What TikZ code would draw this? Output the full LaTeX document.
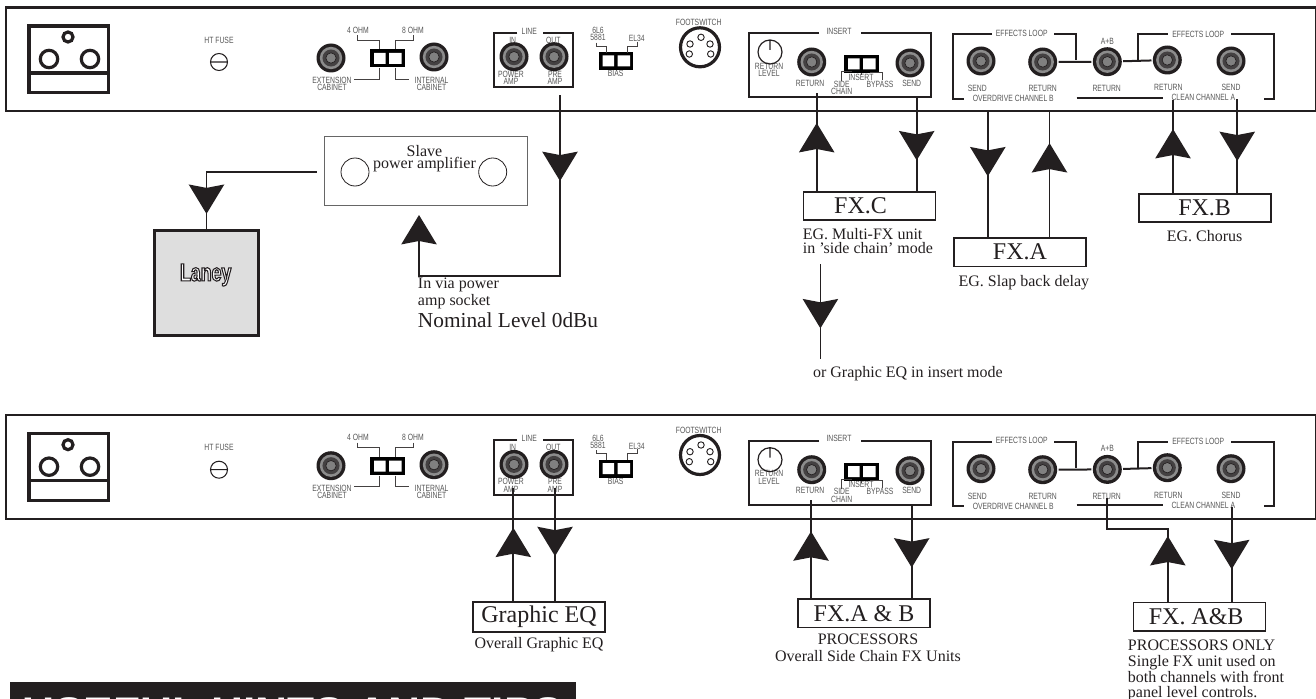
\documentclass[tikz,border=0pt]{standalone}
\usepackage{fontspec}
\setmainfont{Liberation Serif}
\newfontfamily\panelfont[FakeStretch=0.75]{Liberation Sans}
\newfontfamily\laneyfont[FakeStretch=0.72]{Liberation Sans Bold}
\newfontfamily\hintsfont{Liberation Sans Bold}
\usepackage{xcolor}
\usetikzlibrary{arrows.meta,positioning,decorations.markings}
\definecolor{ink}{HTML}{231F20}
\definecolor{legend}{HTML}{555555}
\tikzset{
  Tri/.tip={Stealth[length=22pt,width=26.5pt,inset=2.5pt]},
  wire/.style={line width=1.3pt, draw=ink},
  flow/.style={wire, postaction={decorate, decoration={markings, mark=at position #1 with {\arrow{Tri}}}}},
  fxbox/.style={draw=ink, line width=1.4pt, fill=white, inner sep=0pt, minimum width=99pt, minimum height=21.5pt, font=\fontsize{18}{20}\selectfont, text=ink},
  note/.style={inner sep=0pt, align=left, text=ink, font=\fontsize{12}{10.9}\selectfont},
  lbl/.style={inner sep=0pt, align=center, text=legend, font=\panelfont\fontsize{6.8}{5.6}\selectfont},
  lead/.style={line width=0.6pt, draw=ink!85},
  frame/.style={line width=1.5pt, draw=ink},
  jack/.style={circle, inner sep=0pt, minimum size=21.75pt, fill=ink, outer sep=1pt, path picture={
    \fill[black!45] (path picture bounding box.center) circle (8.4pt);
    \fill[ink!85] (path picture bounding box.center) circle (6.4pt);
    \filldraw[fill=black!50, draw=ink, line width=0.5pt] (path picture bounding box.center) circle (3.9pt);}},
  switchbox/.style={inner sep=0pt, minimum width=26pt, minimum height=13.5pt, fill=black, path picture={
    \fill[white] (path picture bounding box.center) +(-13.5,-5.5) rectangle +(-2,5.5) +(1.5,-5.5) rectangle +(14,5.5);}},
  rearpanel/.pic={
    \draw[line width=1.6pt, draw=ink] (6,7.5) rectangle (1315.7,111);
    \draw[line width=2.4pt, draw=ink] (29,26) rectangle (108.5,92.5) (29,73) -- (108.5,73);
    \draw[line width=2.4pt, draw=ink] (68,37) circle (5) (49,59) circle (8.7) (90,59) circle (8.7);
    \draw[line width=0.8pt, draw=ink] (219,62) circle (8.5) (210.5,62) -- (227.5,62);
    \foreach \name/\x/\y/\txt in {
      fuselbl/219/40/HT FUSE, ohmfour/358/30/4 OHM, ohmeight/413/30/8 OHM,
      extlbl/332/84/EXTENSION\\CABINET, intlbl/431.5/84/INTERNAL\\CABINET,
      linelbl/529.3/31/LINE, inlbl/512.7/40/IN, outlbl/553.3/40/OUT,
      pwrlbl/511/77.7/POWER\\AMP, prelbl/555/77.7/PRE\\AMP,
      sixlbl/598/34/6L6\\5881, ellbl/636.7/38.3/EL34, biaslbl/615.7/73.3/BIAS,
      footlbl/698.7/22.3/FOOTSWITCH, inslbl/839/31/INSERT, levlbl/769/69.7/RETURN\\LEVEL,
      retlbl/810/83/RETURN, sidelbl/841.7/87.8/SIDE\\CHAIN, modelbl/861/77/INSERT,
      byplbl/880/84/BYPASS, sendlbl/911.7/83/SEND,
      loopb/1021.7/33/EFFECTS LOOP, loopa/1198.3/34/EFFECTS LOOP, ablbl/1107.3/41/A+B,
      bsend/977.3/88.3/SEND, bret/1042.7/88.3/RETURN, abret/1106.7/88.3/RETURN,
      aret/1168.3/87.3/RETURN, asend/1231/87.3/SEND,
      chanb/1013.3/98.3/OVERDRIVE CHANNEL B, chana/1203.3/97.3/CLEAN CHANNEL A}
      \node[lbl] (-\name) at (\x,\y) {\txt};
    \foreach \name/\x/\y in {extjack/331/58, intjack/434/57, injack/514/56.7, outjack/554/56.7,
      retjack/811.7/62, sendjack/910/63, bsendjack/981/61, bretjack/1042.7/62,
      abjack/1107.3/61.7, aretjack/1167.3/60, asendjack/1231/61}
      \node[jack] (-\name) at (\x,\y) {};
    \node[switchbox] (-ohmsw) at (387.5,58.5) {};
    \node[switchbox] (-biassw) at (616,61) {};
    \node[switchbox] (-inssw) at (861.5,64) {};
    \draw[lead] (357,35) -- (357,40) -- (379,40) -- (379,49);
    \draw[lead] (413,35) -- (413,40) -- (395,40) -- (395,49);
    \draw[lead] (379,68) -- (379,79) -- (354,79);
    \draw[lead] (395,68) -- (395,79) -- (409,79);
    \draw[lead] (596,42.7) -- (596,46) -- (606,46) -- (606,52.7);
    \draw[lead] (637.7,41.7) -- (637.7,46) -- (627.7,46) -- (627.7,52.7);
    \draw[lead] (841.7,81) -- (841.7,71.7) -- (852,71.7);
    \draw[lead] (861.7,73) -- (861.7,75);
    \draw[lead] (870,72.6) -- (882,72.6) -- (882,80);
    \draw[frame] (517.3,32.7) -- (494,32.7) -- (494,87.3) -- (572.7,87.3) -- (572.7,32.7) -- (543.3,32.7);
    \draw[frame] (819,33.3) -- (748.7,33.3) -- (748.7,97.3) -- (930.7,97.3) -- (930.7,33.3) -- (860.7,33.3);
    \draw[line width=2.4pt, draw=ink] (700,47.3) circle (19.5);
    \draw[line width=0.7pt, draw=ink] (701,37.3) circle (3.2) (690,44) circle (3.2) (710,44) circle (3.2) (689.3,54) circle (3.2) (710.7,54) circle (3.2);
    \draw[line width=0.9pt, draw=ink] (770,52) circle (12) (770,40) -- (770,50);
    \draw[frame] (992,34) -- (953.3,34) -- (953.3,98.6) -- (964,98.6);
    \draw[frame] (1054,34) -- (1076,34) -- (1076,60);
    \draw[frame] (1137.7,60) -- (1137.7,34) -- (1167.7,34);
    \draw[frame] (1231,34) -- (1274.3,34) -- (1274.3,98.6) -- (1264,98.6);
    \draw[frame] (1076.7,97.7) -- (1162.7,97.7);
    \draw[frame] (-bretjack) -- (-abjack);
    \draw[frame] (-abjack) -- (-aretjack);
  }
}
\begin{document}
\begin{tikzpicture}[x=0.75pt, y=-0.75pt]
  \useasboundingbox (0,0) rectangle (1316,699);

  \pic (top) at (0,0) {rearpanel};
  \pic (bot) at (0,407.7) {rearpanel};

  \node[draw=black!60, line width=0.7pt, minimum width=152.25pt, minimum height=52.25pt, inner sep=0pt] (slave) at (425.5,170.8) {};
  \node[inner sep=0pt, align=center, text=ink, font=\fontsize{12}{9.5}\selectfont] (slavetxt) at (424.5,158.5) {Slave\\power amplifier};
  \node[circle, draw=ink, line width=0.6pt, minimum size=21pt, inner sep=0pt] (slavel) at (355,172) {};
  \node[circle, draw=ink, line width=0.6pt, minimum size=21pt, inner sep=0pt] (slaver) at (492.7,172) {};
  \node[draw=ink, line width=2.6pt, fill=black!13, minimum width=78pt, minimum height=78.5pt, inner sep=0pt] (laney) at (206.5,283) {};
  \node[inner sep=0pt, font=\laneyfont\fontsize{18.5}{20}\selectfont, text=white] (laneytxt) at (205.7,275) {\special{pdf:code q 1 1 1 rg 0.14 0.12 0.13 RG 0.8 w 2 Tr}Laney\special{pdf:code Q}};

  \node[note, anchor=west, font=\fontsize{12}{12.4}\selectfont] (socket) at (417.7,293.3) {In via power\\amp socket};
  \node[note, anchor=west, font=\fontsize{16}{18}\selectfont] (nominal) at (417.7,320) {Nominal Level 0dBu};

  \node[fxbox] (fxc) at (869.5,206) {\hspace*{-13.5pt}FX.C};
  \node[fxbox] (fxa) at (1019.9,252.2) {FX.A};
  \node[fxbox] (fxb) at (1204.6,208) {FX.B};
  \node[note, below=5pt of fxc.south west, anchor=north west] (fxcnote) {EG. Multi-FX unit\\in 'side chain' mode};
  \node[note, below=5.5pt of fxa, xshift=3pt] (fxanote) {EG. Slap back delay};
  \node[note, below=5.5pt of fxb] (fxbnote) {EG. Chorus};
  \node[note] (eqnote) at (907.9,373.3) {or Graphic EQ in insert mode};

  \node[fxbox, minimum width=99.5pt, minimum height=22pt] (geq) at (539,617) {Graphic EQ};
  \node[fxbox] (fxab) at (864,613.2) {FX.A \& B};
  \node[fxbox] (fxone) at (1199.5,616.8) {\hspace*{-5pt}FX. A\&B};
  \node[note, below=3.5pt of geq] (geqnote) {Overall Graphic EQ};
  \node[note, align=center, below=3.5pt of fxab, xshift=3pt, font=\fontsize{12}{13}\selectfont] (fxabnote) {PROCESSORS\\Overall Side Chain FX Units};
  \node[note, anchor=north west, font=\fontsize{12}{11.7}\selectfont] (fxonenote) at (1127.7,640) {PROCESSORS ONLY\\Single FX unit used on\\both channels with front\\panel level controls.};

  \begin{scope}
    \clip (0,670) rectangle (1316,699);
    \node[anchor=north west, fill=ink, text=white, inner xsep=9.2pt, inner ysep=0pt, font=\hintsfont\fontsize{33.2}{36}\selectfont, text height=34.6pt, text depth=8pt] (hints) at (9.7,681.7) {USEFUL HINTS AND TIPS};
  \end{scope}

  \coordinate (slaveout) at (316.7,172);
  \coordinate (topline) at (560,95);
  \coordinate (linecorner) at (560,275.7);
  \coordinate (slavein) at (419,215);
  \coordinate (topret) at (816.7,93);
  \coordinate (topsend) at (916.7,97);
  \coordinate (bsend) at (987.8,111);
  \coordinate (bret) at (1049.5,111);
  \coordinate (aret) at (1173,100);
  \coordinate (asend) at (1237.2,99.3);
  \coordinate (altstart) at (820.4,264);
  \coordinate (altend) at (820.4,359.3);
  \coordinate (botpwr) at (513.3,488);
  \coordinate (botpre) at (555,488);
  \coordinate (botret) at (811,500);
  \coordinate (botsend) at (911.7,505);
  \coordinate (botab) at (1106.7,497.7);
  \coordinate (abbend) at (1167.8,529.3);
  \coordinate (botasend) at (1231.7,507);

  \draw[flow=.91] (slaveout) -| (laney.north);
  \draw[flow=.225, -{Tri}] (topline) -- (linecorner) -| (slavein);
  \draw[flow=.693] (fxc.north -| topret) -- (topret);
  \draw[flow=.676] (topsend) -- (topsend |- fxc.north);
  \draw[flow=.519] (bsend) -- (bsend |- fxa.north);
  \draw[flow=.745] (fxa.north -| bret) -- (bret);
  \draw[flow=.687] (fxb.north -| aret) -- (aret);
  \draw[flow=.661] (asend) -- (asend |- fxb.north);
  \draw[flow=.675] (altstart) -- (altend);
  \draw[flow=.65] (geq.north -| botpwr) -- (botpwr);
  \draw[flow=.601] (botpre) -- (botpre |- geq.north);
  \draw[flow=.68] (fxab.north -| botret) -- (botret);
  \draw[flow=.673] (botsend) -- (botsend |- fxab.north);
  \draw[flow=.397] (fxone.north -| abbend) -- (abbend) -| (botab);
  \draw[flow=.658] (botasend) -- (botasend |- fxone.north);
\end{tikzpicture}
\end{document}
